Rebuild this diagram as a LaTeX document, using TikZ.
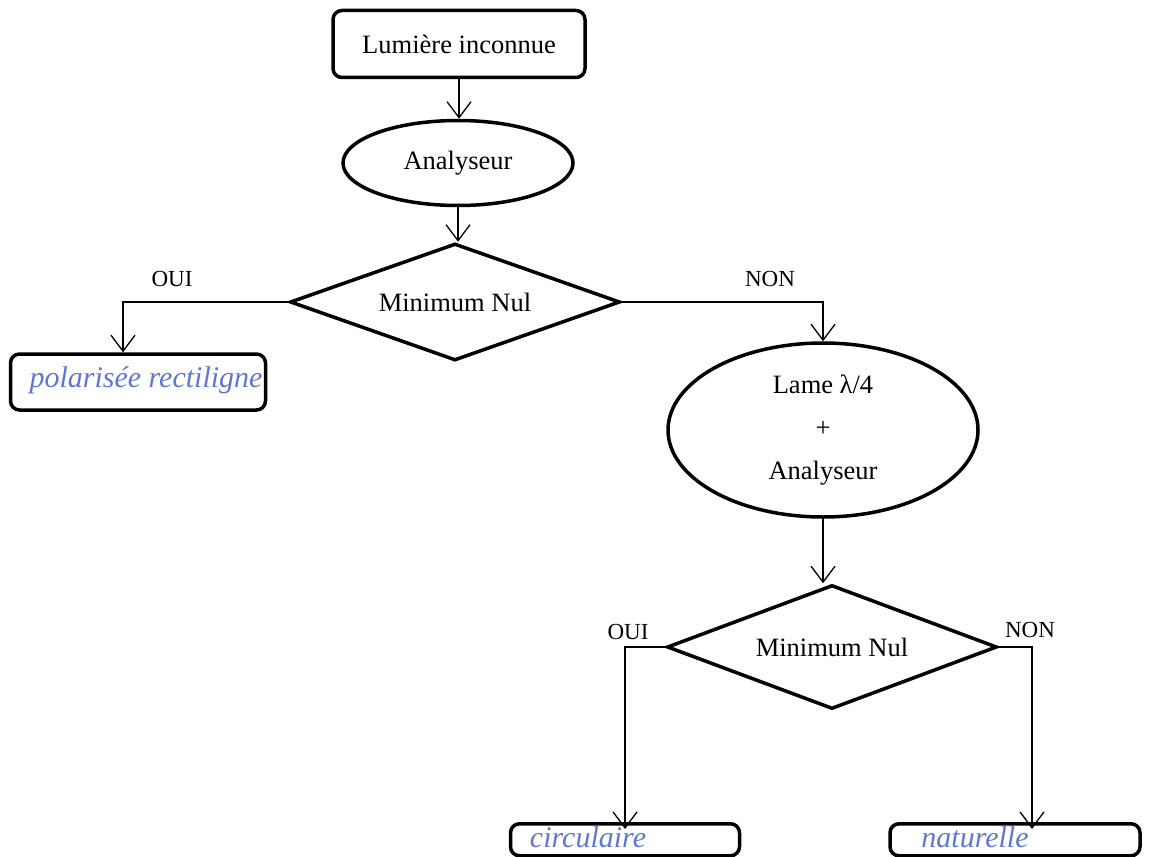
\documentclass[tikz,border=0pt]{standalone}
\usepackage{fontspec}
\setmainfont{Liberation Serif}
\usetikzlibrary{shapes.geometric,arrows.meta}
\definecolor{ink}{RGB}{95,120,205}
\begin{document}
\begin{tikzpicture}[x=1pt,y=-1pt,
  every node/.style={font=\fontsize{26.5}{31}\selectfont, inner sep=0pt},
  boxshape/.style={draw, line width=3.5pt, rounded corners=9pt},
  ellshape/.style={draw, ellipse, line width=3.5pt},
  diashape/.style={draw, diamond, line width=3.5pt, shape aspect=2.8},
  hand/.style={text=ink, font=\fontsize{30}{34}\itshape\selectfont},
  arr/.style={line width=1.3pt, -{Straight Barb[length=16pt,width=24pt,line width=1.3pt]}},
  lbl/.style={font=\fontsize{23}{27}\selectfont}]
\useasboundingbox (0,0) rectangle (1150,856);
\node[boxshape, minimum width=252, minimum height=67] (top) at (459,44) {Lumière inconnue};
\node[ellshape, minimum width=230, minimum height=85] (ana) at (458,163) {Analyseur};
\node[diashape, minimum width=330, minimum height=117] (d1) at (455,302) {Minimum Nul};
\node[boxshape, minimum width=255, minimum height=56] (pol) at (138,382) {};
\node[hand] at (146,380) {polarisée rectiligne};
\node[ellshape, minimum width=310, minimum height=174, align=center] (e2) at (823,430)
  {Lame λ/4\\[12pt]+\\[12pt]Analyseur};
\node[diashape, minimum width=330, minimum height=124] (d2) at (832,647) {Minimum Nul};
\node[boxshape, minimum width=229, minimum height=32, anchor=north] (circ) at (625,822) {};
\node[hand, anchor=north] at (588,826) {circulaire};
\node[boxshape, minimum width=250, minimum height=32, anchor=north] (nat) at (1015,822) {};
\node[hand, anchor=north] at (975,826) {naturelle};
\node[lbl] (oui1) at (172,279) {OUI};
\node[lbl] (non1) at (770,279) {NON};
\node[lbl] (oui2) at (628,632) {OUI};
\node[lbl] (non2) at (1030,630) {NON};
\draw[arr] (top.south) -- (top.south |- ana.north);
\draw[arr] (ana.south) -- (ana.south |- d1.north);
\draw[arr] (d1.west) -| ([xshift=-15pt]pol.north);
\draw[arr] (d1.east) -| (e2.north);
\draw[arr] (e2.south) -- (e2.south |- d2.north);
\draw[arr] (d2.west) -| ([yshift=-7pt]circ.north);
\draw[arr] (d2.east) -| ([xshift=17pt,yshift=-7pt]nat.north);
\end{tikzpicture}
\end{document}
